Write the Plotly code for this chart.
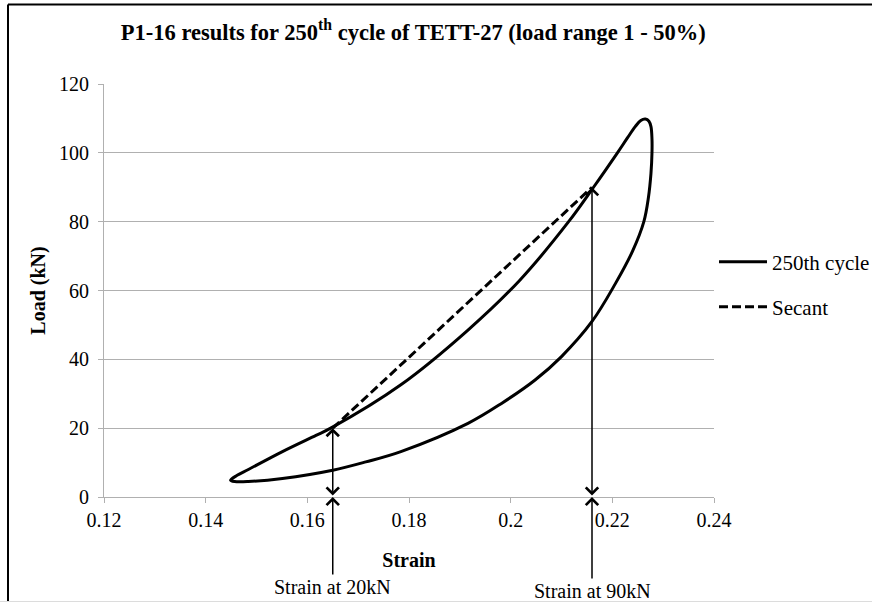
import plotly.graph_objects as go

# Hysteresis loop of the 250th load cycle (strain, load in kN), traced
# from the lower tip up the loading branch, round the peak and back down.
loop_strain = [
    0.1449, 0.1462, 0.1484, 0.1551, 0.1617, 0.1646, 0.1784, 0.1916,
    0.2018, 0.2114, 0.2163, 0.2210, 0.2230, 0.2245, 0.2256, 0.2265,
    0.2272, 0.2276, 0.2278, 0.2278, 0.2276, 0.2271, 0.2262, 0.2240,
    0.2206, 0.2160, 0.2100, 0.2048, 0.1982, 0.1916, 0.1784, 0.1715,
    0.1650, 0.1551, 0.1484, 0.1457, 0.1449,
]
loop_load = [
    4.9, 6.3, 8.0, 13.2, 17.9, 20.0, 32.6, 48.5,
    63.0, 80.0, 90.0, 100.0, 104.4, 107.6, 109.4, 109.8,
    109.2, 107.6, 104.0, 100.0, 94.0, 87.0, 80.0, 71.5,
    62.0, 51.0, 40.8, 34.0, 27.2, 21.4, 13.2, 10.2,
    7.8, 5.4, 4.5, 4.5, 4.9,
]

# Secant between the 20 kN and 90 kN points of the loading branch
secant_strain = [0.165, 0.216]
secant_load = [20, 90]

# Strain read-offs marked with arrows
marker_strain = [0.165, 0.216]
marker_load = [20, 90]

x_ticks = [0.12, 0.14, 0.16, 0.18, 0.20, 0.22, 0.24]
x_tick_text = ["0.12", "0.14", "0.16", "0.18", "0.2", "0.22", "0.24"]
y_ticks = [0, 20, 40, 60, 80, 100, 120]

FONT = "Liberation Serif, Times New Roman, serif"
GRID = "#b0b0b0"

fig = go.Figure()

fig.add_trace(go.Scatter(
    x=loop_strain, y=loop_load, mode="lines", name="250th cycle",
    line=dict(color="black", width=3, shape="spline", smoothing=1.0),
    legend="legend",
))
fig.add_trace(go.Scatter(
    x=secant_strain, y=secant_load, mode="lines", name="Secant",
    line=dict(color="black", width=3, dash="9px,4px"),
    legend="legend2",
))

annotations = []
for s, l in zip(marker_strain, marker_load):
    # double-headed arrow spanning from the axis to the load level
    annotations.append(dict(
        x=s, y=l, ax=s, ay=0, xref="x", yref="y", axref="x", ayref="y",
        text="", showarrow=True, arrowside="end+start",
        arrowhead=4, startarrowhead=4, arrowsize=1.6, startarrowsize=1.6,
        arrowwidth=1.5, arrowcolor="black",
    ))
    # label below the axis pointing up at the strain value
    annotations.append(dict(
        x=s, y=0, xref="x", yref="y", ax=0,
        ay=90 if l == 20 else 94,
        text=f"Strain at {l}kN", showarrow=True,
        arrowhead=4, arrowsize=1.6, arrowwidth=1.5, arrowcolor="black",
        font=dict(family=FONT, size=20, color="black"),
    ))

shapes = [
    # outer chart frame (left and top edges)
    dict(type="line", xref="paper", yref="paper",
         x0=(8 - 104) / 610, x1=(8 - 104) / 610,
         y0=-0.6, y1=(497 - 4.5) / 413,
         line=dict(color="black", width=2)),
    dict(type="line", xref="paper", yref="paper",
         x0=(8 - 104) / 610, x1=1.4,
         y0=(497 - 4.5) / 413, y1=(497 - 4.5) / 413,
         line=dict(color="black", width=2)),
    dict(type="line", xref="paper", yref="paper",
         x0=-0.3, x1=1.4,
         y0=(497 - 601.5) / 413, y1=(497 - 601.5) / 413,
         line=dict(color="#dcdcdc", width=1)),
]

fig.update_layout(
    width=872, height=602,
    margin=dict(l=104, r=158, t=84, b=105, autoexpand=False),
    paper_bgcolor="white", plot_bgcolor="white",
    font=dict(family=FONT, size=20, color="black"),
    title=dict(
        text="<b>P1-16 results for 250<sup>th</sup> cycle of TETT-27 (load range 1 - 50%)</b>",
        x=0.474, xanchor="center", xref="container",
        y=1 - 32 / 602, yanchor="middle", yref="container",
        font=dict(family=FONT, size=22.5, color="black"),
    ),
    xaxis=dict(
        range=[0.12, 0.24], tickvals=x_ticks, ticktext=x_tick_text,
        showgrid=False, zeroline=False,
        showline=True, linecolor=GRID, linewidth=1,
        ticks="outside", ticklen=5, tickcolor=GRID,
        tickfont=dict(family=FONT, size=20, color="black"),
        title=dict(text="<b>Strain</b>", standoff=22,
                   font=dict(family=FONT, size=20, color="black")),
    ),
    yaxis=dict(
        range=[0, 120], tickvals=y_ticks,
        showgrid=True, gridcolor=GRID, gridwidth=1, zeroline=False,
        showline=True, linecolor=GRID, linewidth=1,
        ticks="outside", ticklen=5, tickcolor=GRID,
        ticklabelstandoff=5,
        tickfont=dict(family=FONT, size=20, color="black"),
        title=dict(text="<b>Load (kN)</b>", standoff=8,
                   font=dict(family=FONT, size=20, color="black")),
    ),
    legend=dict(x=1.0, y=(497 - 262) / 413, xanchor="left", yanchor="middle",
                itemwidth=48, bgcolor="rgba(0,0,0,0)",
                font=dict(family=FONT, size=21, color="black")),
    legend2=dict(x=1.0, y=(497 - 307) / 413, xanchor="left", yanchor="middle",
                 itemwidth=48, bgcolor="rgba(0,0,0,0)",
                 font=dict(family=FONT, size=21, color="black")),
    annotations=annotations,
    shapes=shapes,
    showlegend=True,
)

fig.write_html("out.html")
